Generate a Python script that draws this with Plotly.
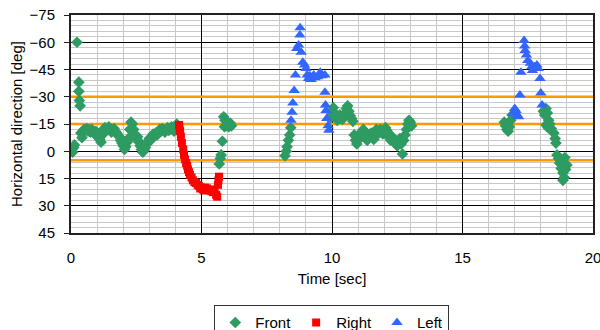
import plotly.graph_objects as go

# ---- data ----
front_t = [0.03, 0.06, 0.10, 0.13, 0.23, 0.30, 0.30, 0.32, 0.35,
           0.38, 0.42, 0.45, 0.50, 0.55, 0.60, 0.65, 0.70, 0.75, 0.80, 0.85, 0.90, 0.95,
           1.00, 1.05, 1.10, 1.15, 1.20, 1.25, 1.30, 1.35, 1.40, 1.45, 1.50, 1.55, 1.60,
           1.65, 1.70, 1.75, 1.80, 1.85, 1.90, 1.95, 2.00, 2.05, 2.10, 2.15, 2.20, 2.25,
           2.30, 2.35, 2.40, 2.45, 2.50, 2.55, 2.60, 2.65, 2.70, 2.75, 2.80, 2.85, 2.90,
           2.95, 3.00, 3.05, 3.10, 3.15, 3.20, 3.25, 3.30, 3.35, 3.40, 3.45, 3.50, 3.55,
           3.60, 3.65, 3.70, 3.75, 3.80, 3.85, 3.90, 3.95, 4.00, 4.05,
           5.68, 5.72, 5.75, 5.80, 5.85, 5.88, 5.90, 5.95, 6.00, 6.05, 6.10, 6.15,
           8.20, 8.25, 8.28, 8.33, 8.38, 8.42,
           9.92, 9.97, 10.00, 10.05, 10.10, 10.15, 10.20, 10.25, 10.30, 10.35, 10.40,
           10.45, 10.50, 10.55, 10.60, 10.65, 10.70, 10.75, 10.80, 10.85, 10.90, 10.95,
           11.00, 11.05, 11.10, 11.15, 11.20, 11.25, 11.30, 11.35, 11.40, 11.45, 11.50,
           11.55, 11.60, 11.65, 11.70, 11.75, 11.80, 11.85, 11.90, 11.95, 12.00, 12.05,
           12.10, 12.15, 12.20, 12.25, 12.30, 12.35, 12.40, 12.45, 12.50, 12.55, 12.60,
           12.65, 12.70, 12.75, 12.80, 12.85, 12.90, 12.95, 13.00, 13.05,
           16.60, 16.65, 16.70, 16.75, 16.80, 16.85, 16.90,
           18.10, 18.15, 18.20, 18.25, 18.30, 18.20, 18.28, 18.35, 18.40, 18.50, 18.55,
           18.58, 18.62, 18.68, 18.72, 18.78, 18.85, 18.90, 18.85, 18.95, 19.00, 18.92]
front_v = [-1, 0.5, -2, -3.5, -60, -38, -33, -28, -25,
           -10, -7.5, -11, -12, -11.5, -12.5, -11, -12, -10.5, -12, -11, -9.5, -11,
           -10, -8.5, -6.5, -5, -9, -12, -13, -11.5, -12.5, -13.5, -12, -10.5, -11.5,
           -12.5, -11, -10, -9, -8, -6, -4.5, -3, -1, -2.5, -5, -7, -12,
           -16, -15, -12, -9, -6.5, -8, -5.5, -3, -1, 0.5, -0.5, -2, -4,
           -5.5, -7, -6, -8, -9.5, -8.5, -10, -9, -10.5, -12, -11, -12.5, -11.5,
           -10.5, -12, -13, -11.5, -12.5, -13.5, -12, -11, -13, -15,
           7, 4, 2, -5.5, -19, -13.5, -17, -14, -16, -13.5, -15.5, -14,
           2.5, 0, -2.5, -6, -9, -13,
           -18, -20, -22, -24, -21, -19, -17, -18.5, -20, -18, -17.5,
           -19, -21, -23.5, -25, -22, -19.5, -18, -16.5, -9, -6, -4,
           -6, -9, -10, -11, -12, -9, -7, -6, -7.5, -9, -10,
           -8, -6.5, -9.5, -12, -11, -10, -12, -11, -9.5, -11, -13,
           -11.5, -10, -7.5, -6, -8, -7, -5.5, -4, -3, -5, -7,
           -4, 1.5, -6, -9, -12, -15, -17, -16, -14,
           -16, -14, -12, -11, -13.5, -17, -20,
           -22, -20, -23.5, -21, -17, -14.5, -13, -15, -12.5, -10, -7,
           -4.5, 2, 4, 6.5, 9.5, 12, 14.5, 16, 10, 7.5, 3.5]

right_t = [4.14, 4.16, 4.18, 4.21, 4.25, 4.30, 4.33, 4.37, 4.41, 4.45, 4.48, 4.52,
           4.56, 4.62, 4.67, 4.73, 4.79, 4.85, 4.90, 4.95, 4.98, 5.05, 5.10, 5.15,
           5.21, 5.27, 5.33, 5.38, 5.44, 5.50, 5.56, 5.60, 5.63, 5.65, 5.67]
right_v = [-14.5, -12, -11, -8, -4.5, -1, 2, 4.5, 6.5, 8, 10, 11.5,
           13, 14.5, 16, 17, 17.5, 18.5, 19, 20.5, 20, 21, 21.5, 20,
           20.5, 21.5, 21, 22, 22.5, 21.5, 24, 25, 18.5, 16, 14]

left_t = [8.43, 8.47, 8.50, 8.55, 8.60, 8.65, 8.72, 8.77, 8.78, 8.82, 8.88, 8.95,
          9.00, 9.05, 9.10, 9.15, 9.20, 9.30, 9.35, 9.45, 9.55, 9.62, 9.73, 9.73,
          9.75, 9.77, 9.80, 9.85, 9.88,
          16.95, 17.00, 17.05, 17.10, 17.15, 17.20, 17.24, 17.36, 17.38, 17.40, 17.45,
          17.50, 17.60, 17.65, 17.68, 17.75, 17.85, 17.90, 17.97, 18.00, 18.05]
left_v = [-17, -21.5, -26.5, -33.5, -42, -56.5, -58.5, -64, -68, -54.5, -49, -47.5,
          -45.5, -42, -40, -41.5, -39.5, -42, -40.5, -41, -43.5, -41.5, -42, -32.5,
          -25.5, -22.5, -18, -14, -11.5,
          -21, -23.5, -22.5, -20, -19, -31, -43.5, -61, -58, -55.5, -53,
          -50, -48.5, -46.5, -44.5, -46.5, -47.5, -45.5, -40, -32, -25.5]

ref_lines = [-30, -15, 5]
y_ticks = [-75, -60, -45, -30, -15, 0, 15, 30, 45]
y_labels = ["\u221275", "\u221260", "\u221245", "\u221230", "\u221215", "0", "15", "30", "45"]
x_ticks = [0, 5, 10, 15, 20]

FONT = "Liberation Sans, Arial, sans-serif"

fig = go.Figure()
# orange reference lines, drawn under the markers
for v in ref_lines:
    fig.add_trace(go.Scatter(x=[0, 20], y=[v, v], mode="lines", showlegend=False,
                             hoverinfo="skip", line=dict(color="#FF9900", width=2.5)))

fig.add_trace(go.Scatter(x=front_t, y=front_v, mode="markers", name="Front",
                         marker=dict(symbol="diamond", size=9, color="#2E9B62")))
fig.add_trace(go.Scatter(x=right_t, y=right_v, mode="markers", name="Right",
                         marker=dict(symbol="square", size=8, color="#FF0000")))
fig.add_trace(go.Scatter(x=left_t, y=left_v, mode="markers", name="Left",
                         marker=dict(symbol="triangle-up", size=10, color="#3366FF")))

fig.update_layout(
    width=600, height=330,
    margin=dict(l=71, r=7, t=15, b=97, autoexpand=False),
    paper_bgcolor="white", plot_bgcolor="white",
    font=dict(family=FONT, size=14, color="black"),
    showlegend=True,
    legend=dict(orientation="h", x=0.553, xanchor="center", xref="container",
                y=0.075, yanchor="top", yref="container",
                bordercolor="#333333", borderwidth=1, font=dict(size=15),
                itemwidth=30, tracegroupgap=0),
)
fig.update_xaxes(
    range=[0, 20], tickvals=x_ticks, showgrid=True, gridcolor="black", gridwidth=1,
    minor=dict(dtick=1, showgrid=True, gridcolor="#C8C8C8", gridwidth=1),
    showline=True, linecolor="#222222", linewidth=2, mirror=True,
    zeroline=False, ticks="", ticklabelstandoff=10, tickfont=dict(size=15),
    ticklabeloverflow="allow",
    title=dict(text="Time [sec]", font=dict(size=15), standoff=8),
)
fig.update_yaxes(
    range=[45, -75], tickvals=y_ticks, ticktext=y_labels, showgrid=True,
    gridcolor="black", gridwidth=1,
    minor=dict(dtick=3, tick0=0, showgrid=True, gridcolor="#C8C8C8", gridwidth=1),
    showline=True, linecolor="#222222", linewidth=2, mirror=True,
    zeroline=False, ticks="outside", ticklen=5, tickcolor="#222222",
    ticklabelstandoff=6, tickfont=dict(size=15),
    title=dict(text="Horizontal direction [deg]", font=dict(size=15), standoff=3),
)

fig.write_html("out.html")
